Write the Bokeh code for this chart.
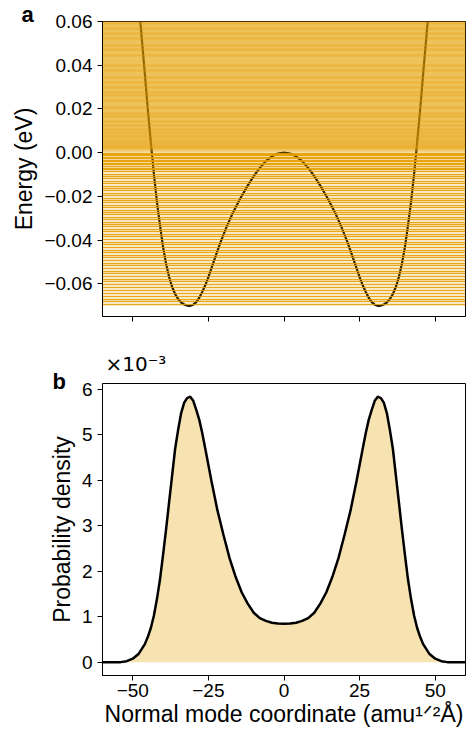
from bokeh.plotting import figure
from bokeh.layouts import column
from bokeh.models import Range1d, FixedTicker, Title
from bokeh.embed import file_html
from bokeh.resources import INLINE

# ---------------- data ----------------
coord_ticks = [-50, -25, 0, 25, 50]
coord_tick_labels = ["\u221250", "\u221225", "0", "25", "50"]
energy_ticks = [-0.06, -0.04, -0.02, 0.0, 0.02, 0.04, 0.06]
energy_tick_labels = ["\u22120.06", "\u22120.04", "\u22120.02", "0.00", "0.02", "0.04", "0.06"]
density_ticks = [0, 1, 2, 3, 4, 5, 6]
density_tick_labels = ["0", "1", "2", "3", "4", "5", "6"]

# double-well potential (eV) along the normal mode coordinate
potential_x = [-48, -47, -46, -45, -44, -43, -42, -41, -40, -39, -38, -37, -36, -35, -34, -33,
               -32, -31, -30, -29, -28, -27, -26, -25, -24, -23, -22, -21, -20, -19, -18, -17,
               -16, -14, -12, -10, -8, -6, -4, -2, 0,
               2, 4, 6, 8, 10, 12, 14, 16, 17, 18, 19, 20, 21, 22, 23, 24, 25, 26, 27, 28, 29,
               30, 31, 32, 33, 34, 35, 36, 37, 38, 39, 40, 41, 42, 43, 44, 45, 46, 47, 48]
potential_e = [0.068, 0.052, 0.036, 0.0195, 0.0045, -0.0100, -0.0225, -0.0332, -0.0430, -0.0508,
               -0.0568, -0.0614, -0.0647, -0.0670, -0.0686, -0.0695, -0.0700, -0.0701, -0.0696,
               -0.0684, -0.0664, -0.0637, -0.0606, -0.0570, -0.0530, -0.0490, -0.0450, -0.0411,
               -0.0375, -0.0341, -0.0309, -0.0279, -0.0251, -0.0199, -0.0151, -0.0108, -0.0070,
               -0.0039, -0.0017, -0.0004, 0.0,
               -0.0004, -0.0017, -0.0039, -0.0070, -0.0108, -0.0151, -0.0199, -0.0251, -0.0279,
               -0.0309, -0.0341, -0.0375, -0.0411, -0.0450, -0.0490, -0.0530, -0.0570, -0.0606,
               -0.0637, -0.0664, -0.0684, -0.0696, -0.0701, -0.0700, -0.0695, -0.0686, -0.0670,
               -0.0647, -0.0614, -0.0568, -0.0508, -0.0430, -0.0332, -0.0225, -0.0100, 0.0045,
               0.0195, 0.036, 0.052, 0.068]

# energy levels below the barrier (eV)
bound_levels = [-0.0696, -0.0683, -0.0670, -0.0657, -0.0644, -0.0631, -0.0618, -0.0605, -0.0592,
                -0.0579, -0.0566, -0.0554, -0.0542, -0.0530, -0.0518, -0.0506, -0.0494, -0.0482,
                -0.0470, -0.0458, -0.0446, -0.0434, -0.0422, -0.0410, -0.0398, -0.0386, -0.0374,
                -0.0362, -0.0351, -0.0340, -0.0329, -0.0318, -0.0307, -0.0296, -0.0285, -0.0274,
                -0.0263, -0.0252, -0.0241, -0.0230, -0.0219, -0.0208, -0.0197, -0.0186, -0.0175,
                -0.0164, -0.0153, -0.0142, -0.0131, -0.0120, -0.0109, -0.0098, -0.0088, -0.0079,
                -0.0071, -0.0063, -0.0055, -0.0048, -0.0041, -0.0034, -0.0027, -0.0021, -0.0015,
                -0.0009, -0.0004]
# dense levels above the barrier (eV)
continuum_band = [0.0015, 0.0700]
continuum_levels = [0.0004, 0.0010, 0.0016, 0.0023, 0.0030, 0.0038, 0.0047, 0.0057, 0.0068,
                    0.0080, 0.0093, 0.0108, 0.0125, 0.0144, 0.0165, 0.0180, 0.0205, 0.0238,
                    0.0260, 0.0275, 0.0300, 0.0320, 0.0345, 0.0376, 0.0400, 0.0444, 0.0470,
                    0.0490, 0.0520, 0.0545, 0.0570, 0.0591]

# probability density (x 1e-3)
density_x = [-60, -58, -56, -54, -52, -50, -48, -46, -45, -44, -43, -42, -41, -40, -39, -38,
             -37, -36, -35, -34, -33, -32, -31, -30, -29, -28, -27, -26, -24, -22, -20, -18,
             -16, -14, -12, -10, -8, -6, -4, -2, 0,
             2, 4, 6, 8, 10, 12, 14, 16, 18, 20, 22, 24, 26, 27, 28, 29, 30, 31, 32, 33, 34,
             35, 36, 37, 38, 39, 40, 41, 42, 43, 44, 45, 46, 48, 50, 52, 54, 56, 58, 60]
density_y = [0.0, 0.0, 0.0, 0.004, 0.025, 0.08, 0.19, 0.40, 0.56, 0.76, 1.03, 1.39, 1.82, 2.35,
             2.91, 3.51, 4.10, 4.69, 5.11, 5.48, 5.71, 5.81, 5.84, 5.75, 5.55, 5.33, 5.03, 4.69,
             3.99, 3.34, 2.80, 2.29, 1.88, 1.54, 1.29, 1.09, 0.97, 0.91, 0.87, 0.855, 0.85,
             0.855, 0.87, 0.91, 0.97, 1.09, 1.29, 1.54, 1.88, 2.29, 2.80, 3.34, 3.99, 4.69,
             5.03, 5.33, 5.55, 5.75, 5.84, 5.81, 5.71, 5.48, 5.11, 4.69, 4.10, 3.51, 2.91,
             2.35, 1.82, 1.39, 1.03, 0.76, 0.56, 0.40, 0.19, 0.08, 0.025, 0.004, 0.0, 0.0, 0.0]
density_baseline = 0.0

# ---------------- styling ----------------
ORANGE = "#E69F00"
FONT = "Liberation Sans"


def style(p):
    p.grid.visible = False
    p.outline_line_color = "black"
    p.outline_line_width = 1
    p.background_fill_color = "white"
    p.border_fill_color = "white"
    for ax in p.axis:
        ax.axis_line_color = "black"
        ax.axis_line_width = 1
        ax.major_tick_line_color = "black"
        ax.major_tick_line_width = 1
        ax.major_tick_out = 5
        ax.major_tick_in = 0
        ax.minor_tick_line_color = None
        ax.major_label_text_font = FONT
        ax.major_label_text_font_size = "19px"
        ax.major_label_text_color = "black"
        ax.major_label_standoff = 5
        ax.axis_label_text_font = FONT
        ax.axis_label_text_font_size = "23px"
        ax.axis_label_text_font_style = "normal"
        ax.axis_label_text_color = "black"
        ax.axis_label_standoff = 4


# ---------------- panel a ----------------
p1 = figure(width=466, height=348, x_range=Range1d(-60, 60), y_range=Range1d(-0.075, 0.06),
            output_backend="svg", toolbar_location=None,
            min_border_left=102, min_border_right=1, min_border_top=21, min_border_bottom=32)
style(p1)
p1.line(potential_x, potential_e, line_color="black", line_width=2.2)
p1.hstrip(y0=[continuum_band[0]], y1=[continuum_band[1]], fill_color=ORANGE, fill_alpha=0.65,
          line_alpha=0)
p1.hspan(y=continuum_levels, line_color=ORANGE, line_alpha=0.35, line_width=2)
p1.hspan(y=bound_levels, line_color=ORANGE, line_alpha=0.9, line_width=1.5)

p1.xaxis.ticker = FixedTicker(ticks=coord_ticks)
p1.xaxis.major_label_text_color = None
p1.xaxis.major_label_standoff = 0
p1.yaxis.ticker = FixedTicker(ticks=energy_ticks)
p1.yaxis.major_label_overrides = dict(zip(energy_ticks, energy_tick_labels))
p1.yaxis.axis_label = "Energy (eV)"

p1.add_layout(Title(text="a", align="left", offset=-81, standoff=-10,
                    text_font=FONT, text_font_style="bold", text_font_size="22px",
                    text_color="black"), "above")

# ---------------- panel b ----------------
p2 = figure(width=466, height=385, x_range=Range1d(-60, 60), y_range=Range1d(-0.29, 6.13),
            output_backend="svg", toolbar_location=None,
            min_border_left=102, min_border_right=1, min_border_top=33, min_border_bottom=58)
style(p2)
p2.varea(x=density_x, y1=density_baseline, y2=density_y, fill_color=ORANGE, fill_alpha=0.3)
p2.line(density_x, density_y, line_color="black", line_width=2.5)

p2.xaxis.ticker = FixedTicker(ticks=coord_ticks)
p2.xaxis.major_label_overrides = dict(zip(coord_ticks, coord_tick_labels))
p2.xaxis.axis_label = "Normal mode coordinate (amu\u00b9\u141f\u00b2\u00c5)"
p2.xaxis.axis_label_standoff = 1
p2.xaxis.major_label_standoff = 3
p2.yaxis.ticker = FixedTicker(ticks=density_ticks)
p2.yaxis.major_label_overrides = dict(zip(density_ticks, density_tick_labels))
p2.yaxis.axis_label = "Probability density"

p2.add_layout(Title(text="b", align="left", offset=-50, standoff=-21,
                    text_font=FONT, text_font_style="bold", text_font_size="22px",
                    text_color="black"), "above")
p2.add_layout(Title(text="\u00d710\u207b\u00b3", align="left", offset=3, standoff=3,
                    text_font="DejaVu Sans", text_font_style="normal", text_font_size="20px",
                    text_color="black"), "above")

layout = column(p1, p2, spacing=0)
open("out.html", "w").write(file_html(layout, INLINE))
